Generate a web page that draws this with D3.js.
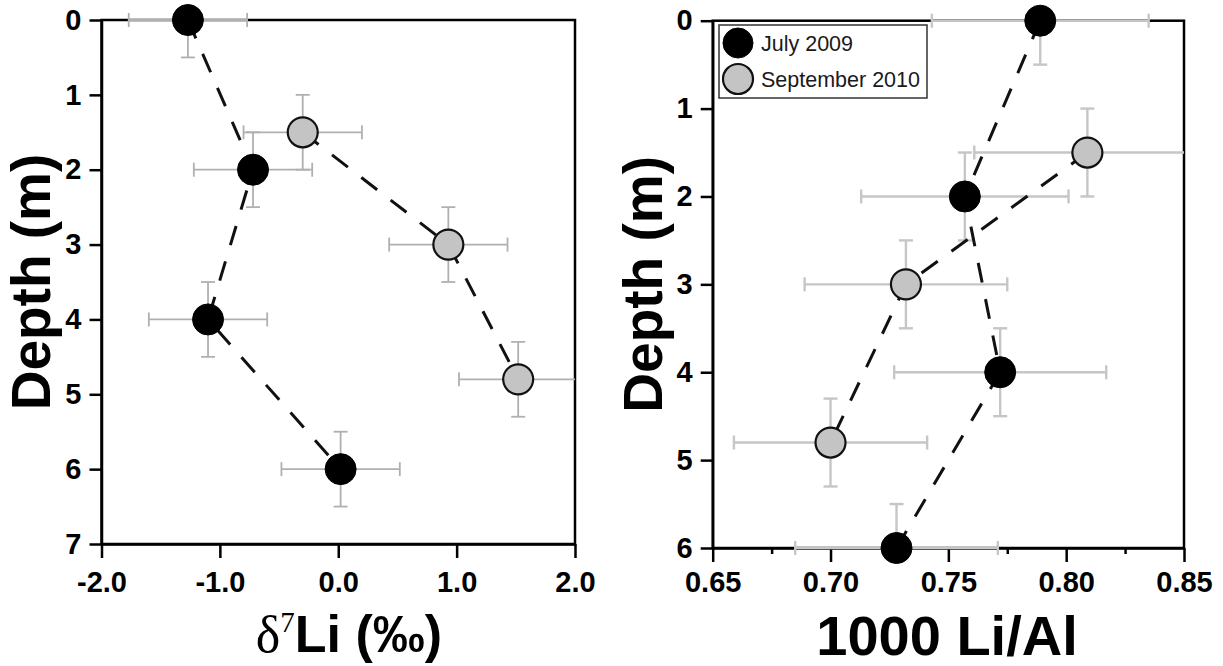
<!DOCTYPE html>
<html><head><meta charset="utf-8">
<script src="https://cdn.jsdelivr.net/npm/d3@7"></script>
<style>body{margin:0;background:#fff}svg{display:block}</style>
</head><body>
<svg id="chart" width="1223" height="666"></svg>
<script>
// ---------- data ----------
const seriesNames = ["July 2009", "September 2010"];
const depthJuly = [0, 2, 4, 6];
const depthSep = [1.5, 3, 4.8];
const depthErrJuly = [0.5, 0.5, 0.5, 0.5];
const depthErrSep = [0.5, 0.5, 0.5];

const d7LiJuly = [-1.27, -0.72, -1.10, 0.02];
const d7LiJulyErr = [0.5, 0.5, 0.5, 0.5];
const d7LiSep = [-0.30, 0.93, 1.52];
const d7LiSepErr = [0.5, 0.5, 0.5];

const liAlJuly = [0.789, 0.757, 0.772, 0.728];
const liAlJulyErr = [0.046, 0.044, 0.045, 0.043];
const liAlSep = [0.809, 0.732, 0.700];
const liAlSepErr = [0.048, 0.043, 0.041];

const d7LiTicks = [-2, -1, 0, 1, 2];
const liAlTicks = [0.65, 0.70, 0.75, 0.80, 0.85];
const liAlMinorTicks = [0.675, 0.725, 0.775, 0.825];
const depthTicksLeft = [0, 1, 2, 3, 4, 5, 6, 7];
const depthTicksRight = [0, 1, 2, 3, 4, 5, 6];

// ---------- style ----------
const FONT = "'Liberation Sans', Arial, Helvetica, sans-serif";
const SERIF = "'Liberation Serif', 'Times New Roman', serif";
const svg = d3.select("#chart");

function zip(xs, xe, ys, ye) {
  return xs.map((v, i) => ({x: v, xe: xe[i], y: ys[i], ye: ye[i]}));
}

function panel(o) {
  const g = svg.append("g");
  const x = d3.scaleLinear().domain(o.xDomain).range([o.left, o.right]);
  const y = d3.scaleLinear().domain(o.yDomain).range([o.top, o.bottom]);

  g.append("rect").attr("x", o.left).attr("y", o.top)
    .attr("width", o.right - o.left).attr("height", o.bottom - o.top)
    .attr("fill", "none").attr("stroke", "#000").attr("stroke-width", 2.5);

  const ax = g.append("g").attr("transform", `translate(0,${o.bottom})`)
    .call(d3.axisBottom(x).tickValues(o.xTicks).tickFormat(o.xFormat)
      .tickSize(14).tickPadding(o.xPad).tickSizeOuter(0));
  if (o.xMinor) {
    g.append("g").attr("transform", `translate(0,${o.bottom})`)
      .call(d3.axisBottom(x).tickValues(o.xMinor).tickFormat("").tickSize(6).tickSizeOuter(0))
      .call(s => s.select(".domain").remove())
      .selectAll("line").attr("stroke-width", 2.5);
  }
  const ay = g.append("g").attr("transform", `translate(${o.left},0)`)
    .call(d3.axisLeft(y).tickValues(o.yTicks).tickFormat(d3.format("d"))
      .tickSize(12).tickPadding(8).tickSizeOuter(0));
  [ax, ay].forEach(a => {
    a.select(".domain").attr("stroke-width", 2.5);
    a.selectAll(".tick line").attr("stroke-width", 2.5);
    a.selectAll("text").attr("font-family", FONT).attr("font-weight", "bold")
      .attr("font-size", 29).attr("fill", "#000");
  });

  const [x0, x1] = o.xDomain, [y0, y1] = o.yDomain;
  function errs(data, color, width) {
    const eg = g.append("g").attr("stroke", color).attr("stroke-width", width).attr("fill", "none");
    data.forEach(d => {
      const xa = Math.max(d.x - d.xe, x0), xb = Math.min(d.x + d.xe, x1);
      const ya = Math.max(d.y - d.ye, y0), yb = Math.min(d.y + d.ye, y1);
      eg.append("line").attr("x1", x(xa)).attr("x2", x(xb)).attr("y1", y(d.y)).attr("y2", y(d.y));
      eg.append("line").attr("x1", x(d.x)).attr("x2", x(d.x)).attr("y1", y(ya)).attr("y2", y(yb));
      const c = 7;
      if (xa === d.x - d.xe) eg.append("line").attr("x1", x(xa)).attr("x2", x(xa)).attr("y1", y(d.y) - c).attr("y2", y(d.y) + c);
      if (xb === d.x + d.xe) eg.append("line").attr("x1", x(xb)).attr("x2", x(xb)).attr("y1", y(d.y) - c).attr("y2", y(d.y) + c);
      if (ya === d.y - d.ye) eg.append("line").attr("x1", x(d.x) - c).attr("x2", x(d.x) + c).attr("y1", y(ya)).attr("y2", y(ya));
      if (yb === d.y + d.ye) eg.append("line").attr("x1", x(d.x) - c).attr("x2", x(d.x) + c).attr("y1", y(yb)).attr("y2", y(yb));
    });
  }
  errs(o.july, o.errColor, o.errWidth);
  errs(o.sep, o.errColor, o.errWidth);

  const line = d3.line().x(d => x(d.x)).y(d => y(d.y));
  [o.july, o.sep].forEach(data => {
    g.append("path").datum(data).attr("d", line).attr("fill", "none")
      .attr("stroke", "#111").attr("stroke-width", 3).attr("stroke-dasharray", "20,17");
  });

  g.append("g").selectAll("circle").data(o.july).join("circle")
    .attr("cx", d => x(d.x)).attr("cy", d => y(d.y)).attr("r", 15.5)
    .attr("fill", "#000").attr("stroke", "#000").attr("stroke-width", 1);
  g.append("g").selectAll("circle").data(o.sep).join("circle")
    .attr("cx", d => x(d.x)).attr("cy", d => y(d.y)).attr("r", 15)
    .attr("fill", "#c4c4c4").attr("stroke", "#111").attr("stroke-width", 2.2);

  g.append("text").attr("transform", `translate(${o.yTitleX},${(o.top + o.bottom) / 2}) rotate(-90)`)
    .attr("text-anchor", "middle").attr("font-family", FONT).attr("font-weight", "bold")
    .attr("font-size", 55).text("Depth (m)");
  return {g, x, y};
}

const P1 = panel({
  left: 101.5, right: 575, top: 20, bottom: 544,
  xDomain: [-2, 2], yDomain: [0, 7], xTicks: d7LiTicks, xFormat: d => d.toFixed(1), xPad: 13,
  yTicks: depthTicksLeft, yTitleX: 50,
  july: zip(d7LiJuly, d7LiJulyErr, depthJuly, depthErrJuly),
  sep: zip(d7LiSep, d7LiSepErr, depthSep, depthErrSep),
  errColor: "#b0b0b0", errWidth: 1.8
});
const t1 = P1.g.append("text").attr("x", 349).attr("y", 652).attr("text-anchor", "middle")
  .attr("font-size", 52).attr("fill", "#000");
t1.append("tspan").attr("font-family", SERIF).text("δ");
t1.append("tspan").attr("font-family", SERIF).attr("font-size", 29).attr("dy", -20).text("7");
t1.append("tspan").attr("font-family", FONT).attr("font-weight", "bold").attr("dy", 20).text("Li (‰)");

const P2 = panel({
  left: 712.7, right: 1184, top: 20.7, bottom: 548,
  xDomain: [0.65, 0.85], yDomain: [0, 6], xTicks: liAlTicks, xMinor: liAlMinorTicks,
  xFormat: d => d.toFixed(2), xPad: 9,
  yTicks: depthTicksRight, yTitleX: 662,
  july: zip(liAlJuly, liAlJulyErr, depthJuly, depthErrJuly),
  sep: zip(liAlSep, liAlSepErr, depthSep, depthErrSep),
  errColor: "#c6c6c6", errWidth: 2.4
});
P2.g.append("text").attr("x", 947).attr("y", 655).attr("text-anchor", "middle")
  .attr("font-family", FONT).attr("font-weight", "bold").attr("font-size", 56).text("1000 Li/Al");

// legend
const lg = svg.append("g");
lg.append("rect").attr("x", 719).attr("y", 25).attr("width", 208).attr("height", 73)
  .attr("fill", "#fff").attr("stroke", "#333").attr("stroke-width", 1.5);
const legendItems = seriesNames.map((n, i) => ({name: n, i}));
lg.selectAll("circle").data(legendItems).join("circle")
  .attr("cx", 738).attr("cy", d => 43 + d.i * 36).attr("r", 15)
  .attr("fill", d => d.i === 0 ? "#000" : "#c4c4c4")
  .attr("stroke", d => d.i === 0 ? "#000" : "#111").attr("stroke-width", d => d.i === 0 ? 1 : 2.2);
lg.selectAll("text").data(legendItems).join("text")
  .attr("x", 761).attr("y", d => 51 + d.i * 36)
  .attr("font-family", FONT).attr("font-size", 21.5).attr("fill", "#1a1a1a").text(d => d.name);
</script>
</body></html>
